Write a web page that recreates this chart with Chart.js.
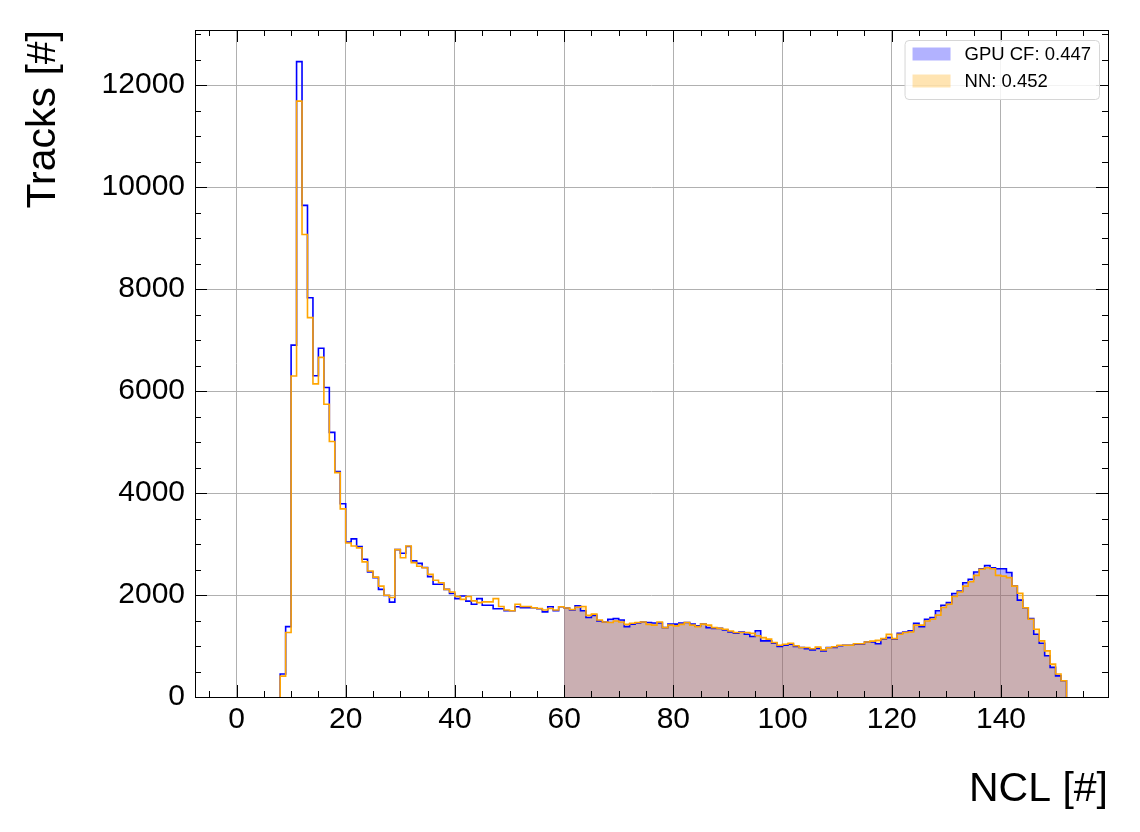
<!DOCTYPE html>
<html>
<head>
<meta charset="utf-8">
<script src="https://cdn.jsdelivr.net/npm/chart.js@4.4.0/dist/chart.umd.min.js"></script>
<style>
  html, body { margin: 0; padding: 0; background: #fff; }
  #wrap { width: 1140px; height: 832px; }
</style>
</head>
<body>
<div id="wrap"><canvas id="ncl-chart" width="1140" height="832"></canvas></div>
<script>
// histogram: bins of width 1 starting at NCL = 0
const binStart = 0;
const binWidth = 1;

// GPU CF counts per bin (0..151)
const gpuCF = [
  0, 0, 0, 0, 0, 0, 0, 0, 450, 1380,
  6900, 12460, 9640, 7830, 6300, 6840, 6070, 5190, 4420, 3790,
  3040, 3100, 2950, 2700, 2450, 2340, 2110, 1990, 1860, 2890,
  2820, 2950, 2670, 2620, 2540, 2360, 2210, 2210, 2110, 2030,
  1930, 1980, 1880, 1820, 1930, 1800, 1800, 1730, 1730, 1690,
  1690, 1770, 1750, 1750, 1750, 1730, 1670, 1770, 1690, 1770,
  1745, 1707, 1790, 1690, 1560, 1600, 1490, 1470, 1525, 1540,
  1510, 1380, 1430, 1450, 1470, 1460, 1450, 1450, 1360, 1430,
  1430, 1450, 1460, 1430, 1395, 1430, 1360, 1345, 1345, 1315,
  1275, 1250, 1275, 1230, 1185, 1300, 1100, 1100, 1055, 990,
  1015, 1035, 990, 970, 945, 925, 950, 905, 970, 970,
  1005, 1015, 1015, 1035, 1035, 1080, 1080, 1045, 1135, 1165,
  1135, 1250, 1275, 1300, 1445, 1380, 1525, 1560, 1690, 1800,
  1850, 2030, 2080, 2240, 2310, 2450, 2515, 2580, 2535, 2515,
  2515, 2440, 2175, 1900, 1750, 1540, 1230, 1055, 810, 580,
  415, 320
];

// NN counts per bin (0..151)
const nnCounts = [
  0, 0, 0, 0, 0, 0, 0, 0, 410, 1265,
  6295, 11685, 9070, 7440, 6140, 6660, 5740, 5010, 4400, 3690,
  3020, 2960, 2925, 2650, 2470, 2350, 2175, 1995, 1950, 2890,
  2730, 2960, 2635, 2565, 2535, 2405, 2290, 2240, 2110, 2060,
  1970, 1915, 1970, 1885, 1850, 1865, 1865, 1930, 1775, 1705,
  1690, 1820, 1775, 1775, 1750, 1735, 1705, 1735, 1705, 1770,
  1745, 1715, 1760, 1775, 1600, 1625, 1510, 1470, 1460, 1490,
  1470, 1425, 1445, 1460, 1470, 1425, 1410, 1470, 1360, 1410,
  1395, 1425, 1460, 1410, 1380, 1430, 1410, 1360, 1345, 1330,
  1295, 1265, 1265, 1265, 1250, 1200, 1165, 1135, 1070, 1015,
  1035, 1055, 1005, 970, 970, 945, 980, 925, 965, 985,
  1015, 1015, 1015, 1045, 1045, 1080, 1095, 1110, 1145, 1230,
  1145, 1230, 1265, 1275, 1410, 1410, 1490, 1525, 1605, 1755,
  1820, 1970, 2060, 2175, 2260, 2385, 2505, 2535, 2515, 2385,
  2370, 2340, 2175, 2035, 1750, 1525, 1330, 1100, 905, 645,
  450, 320
];

const fillFromBin = 60;
const seriesLabels = ['GPU CF: 0.447', 'NN: 0.452'];
const xTicks = [0, 20, 40, 60, 80, 100, 120, 140];
const yTicks = [0, 2000, 4000, 6000, 8000, 10000, 12000];
const xLimits = [-7.6, 159.6];
const yLimits = [0, 13080];

const FONT = "'Liberation Sans', Arial, Helvetica, sans-serif";
Chart.defaults.font.family = FONT;
Chart.defaults.color = '#000';

// outline of a step histogram built from the bin values
function stepOutline(values, from) {
    const pts = [{x: binStart + from * binWidth, y: 0}];
    for (let i = from; i < values.length; i++) {
        const lo = binStart + i * binWidth;
        pts.push({x: lo, y: values[i]});
        pts.push({x: lo + binWidth, y: values[i]});
    }
    pts.push({x: binStart + values.length * binWidth, y: 0});
    return pts;
}

const firstFilled = (values) => values.findIndex(v => v > 0);

const frameTicks = {
    id: 'frameTicks',
    afterDraw(chart) {
        const {ctx, chartArea: a, scales: {x, y}} = chart;
        ctx.save();
        ctx.strokeStyle = '#000';
        ctx.lineWidth = 1;
        ctx.beginPath();
        const xStep = xTicks[1] - xTicks[0];
        const xMinor = xStep / 4;
        for (let k = Math.ceil(x.min / xMinor); k * xMinor <= x.max; k++) {
            const px = Math.round(x.getPixelForValue(k * xMinor)) + 0.5;
            const len = k % 4 === 0 ? 12 : 6;
            ctx.moveTo(px, a.bottom); ctx.lineTo(px, a.bottom - len);
            ctx.moveTo(px, a.top); ctx.lineTo(px, a.top + len);
        }
        const yStep = yTicks[1] - yTicks[0];
        const yMinor = yStep / 4;
        for (let k = Math.ceil(y.min / yMinor); k * yMinor <= y.max; k++) {
            const py = Math.round(y.getPixelForValue(k * yMinor)) + 0.5;
            const len = k % 4 === 0 ? 12 : 6;
            ctx.moveTo(a.left, py); ctx.lineTo(a.left + len, py);
            ctx.moveTo(a.right, py); ctx.lineTo(a.right - len, py);
        }
        ctx.stroke();
        ctx.strokeRect(Math.round(a.left) + 0.5, Math.round(a.top) + 0.5,
            Math.round(a.right - a.left), Math.round(a.bottom - a.top));

        // legend box, top right inside the axes
        ctx.font = `18.5px ${FONT}`;
        const textW = Math.max(...seriesLabels.map(t => ctx.measureText(t).width));
        const w = 8 + 38 + 14 + textW + 8;
        const h = 59;
        const bx = a.right - 9 - w;
        const by = a.top + 10;
        ctx.beginPath();
        ctx.roundRect(bx + 0.5, by + 0.5, w, h, 4);
        ctx.fillStyle = 'rgba(255,255,255,0.85)';
        ctx.fill();
        ctx.strokeStyle = '#d6d6d6';
        ctx.stroke();
        const swatches = [chart.data.datasets[0].backgroundColor, chart.data.datasets[1].backgroundColor];
        ctx.textBaseline = 'middle';
        seriesLabels.forEach((t, i) => {
            const cy = by + 14 + i * 27;
            ctx.fillStyle = swatches[i];
            ctx.fillRect(bx + 8, cy - 6.5, 38, 13);
            ctx.fillStyle = '#000';
            ctx.fillText(t, bx + 8 + 38 + 14, cy + 1);
        });
        ctx.restore();
    }
};

const ctx = document.getElementById('ncl-chart').getContext('2d');
new Chart(ctx, {
    type: 'line',
    data: {
        datasets: [
            {
                label: seriesLabels[0] + ' fill',
                data: stepOutline(gpuCF, fillFromBin),
                backgroundColor: 'rgba(0, 0, 255, 0.3)',
                borderWidth: 0,
                fill: 'origin',
                pointRadius: 0,
                order: 4,
            },
            {
                label: seriesLabels[1] + ' fill',
                data: stepOutline(nnCounts, fillFromBin),
                backgroundColor: 'rgba(255, 165, 0, 0.3)',
                borderWidth: 0,
                fill: 'origin',
                pointRadius: 0,
                order: 3,
            },
            {
                label: seriesLabels[0],
                data: stepOutline(gpuCF, firstFilled(gpuCF)),
                borderColor: '#0000ff',
                borderWidth: 1.6,
                fill: false,
                pointRadius: 0,
                order: 2,
            },
            {
                label: seriesLabels[1],
                data: stepOutline(nnCounts, firstFilled(nnCounts)),
                borderColor: '#ffa500',
                borderWidth: 1.6,
                fill: false,
                pointRadius: 0,
                order: 1,
            },
        ],
    },
    options: {
        responsive: false,
        animation: false,
        devicePixelRatio: 1,
        layout: {
            padding: {top: 30, right: 32, left: 0, bottom: 0},
        },
        plugins: {
            legend: {display: false},
            tooltip: {enabled: false},
        },
        elements: {
            line: {tension: 0},
        },
        scales: {
            x: {
                type: 'linear',
                min: xLimits[0],
                max: xLimits[1],
                afterBuildTicks: (scale) => { scale.ticks = xTicks.map(v => ({value: v})); },
                afterFit: (scale) => { scale.height = 135; },
                grid: {color: '#b0b0b0', lineWidth: 1, drawTicks: false},
                border: {display: false},
                ticks: {
                    font: {size: 30},
                    color: '#000',
                    padding: 5,
                    maxRotation: 0,
                    autoSkip: false,
                    callback: (v) => String(v),
                },
                title: {
                    display: true,
                    text: 'NCL [#]',
                    align: 'end',
                    color: '#000',
                    font: {size: 41},
                    padding: {top: 0, bottom: 18},
                },
            },
            y: {
                type: 'linear',
                min: yLimits[0],
                max: yLimits[1],
                afterBuildTicks: (scale) => { scale.ticks = yTicks.map(v => ({value: v})); },
                afterFit: (scale) => { scale.width = 195; },
                grid: {color: '#b0b0b0', lineWidth: 1, drawTicks: false},
                border: {display: false},
                ticks: {
                    font: {size: 30},
                    color: '#000',
                    padding: 10,
                    autoSkip: false,
                    callback: (v) => String(v),
                },
                title: {
                    display: true,
                    text: 'Tracks [#]',
                    align: 'end',
                    color: '#000',
                    font: {size: 41},
                    padding: {top: 19, bottom: 0},
                },
            },
        },
    },
    plugins: [frameTicks],
});
</script>
</body>
</html>
